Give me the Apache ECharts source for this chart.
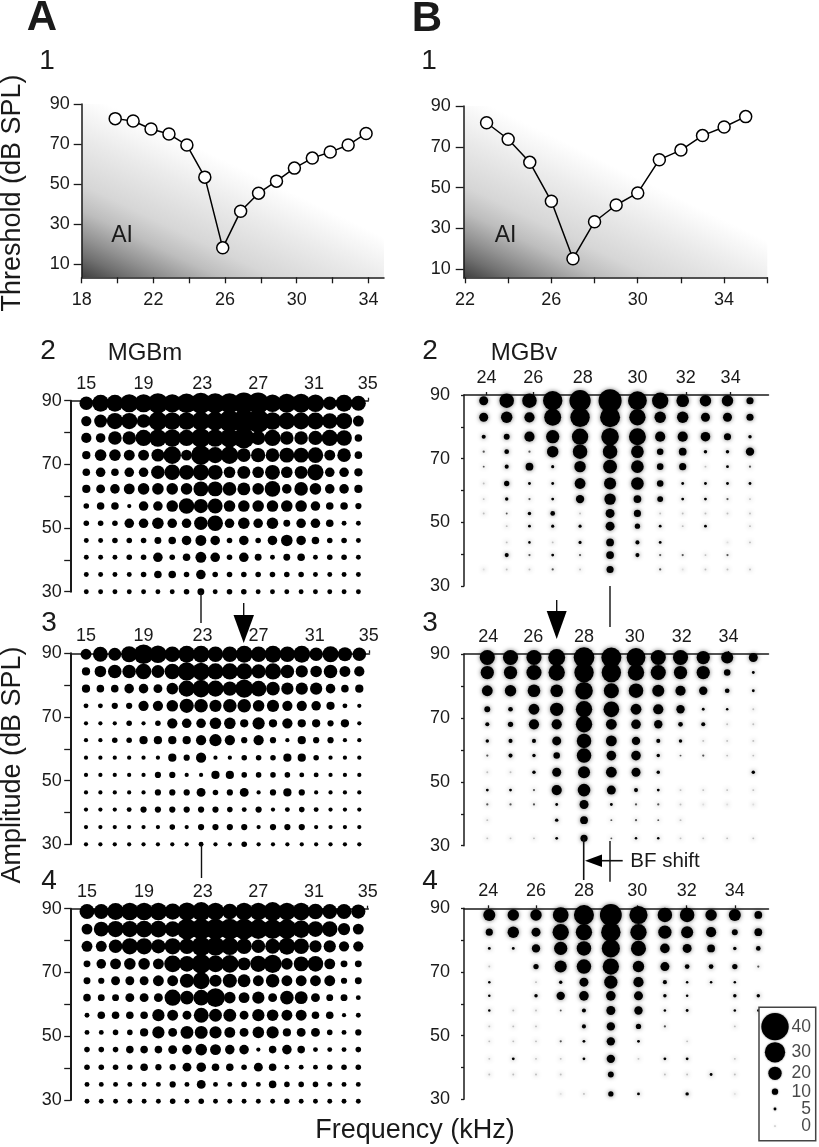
<!DOCTYPE html>
<html><head><meta charset="utf-8">
<style>html,body{margin:0;padding:0;background:#fff}#c{width:819px;height:1147px}</style>
<script src="https://cdn.jsdelivr.net/npm/echarts@6/dist/echarts.min.js"></script>
</head><body><div id="c"></div>
<script>
// ---------- threshold tuning curves ----------
const freqA1 = [19.87,20.87,21.87,22.87,23.87,24.87,25.87,26.87,27.87,28.87,29.87,30.87,31.87,32.87,33.87];
const thrA1  = [82.7,81.5,77.5,75,69.5,53.5,18.2,36.5,45.5,51.5,58,63,66,69.5,75.3];
const freqB1 = [23,24,25,26,27,28,29,30,31,32,33,34,35];
const thrB1  = [81.8,73.7,62.4,43.3,15.2,33.3,41.5,47.4,63.7,68.4,75.5,79.7,84.8];

// ---------- response maps, MGBm (rows: amplitude, cols: frequency) ----------
const freqA = [15,16,17,18,19,20,21,22,23,24,25,26,27,28,29,30,31,32,33,34];
const tickA = [15,19,23.1,27,30.9,34.66];
const labelsA = ['15','19','23','27','31','35'];
const ampA2 = [89.2,83.6,78.3,72.9,67.5,62.3,56.9,51.5,46.1,40.8,35.4,30];
const respA2 = [
[20,25,25,27,27,30,27,29,31,30,30,32,32,26,28,28,26,20,25,22],
[15,19,24,24,20,28,26,26,28,28,32,34,34,26,25,25,25,23,24,16],
[15,14,20,20,24,26,26,24,29,26,28,31,21,24,20,20,21,24,23,11],
[12,17,17,16,16,19,26,16,29,24,26,20,21,20,22,22,23,16,20,11],
[11,14,11,14,14,20,23,22,24,22,17,19,17,22,17,19,24,14,14,12],
[12,13,14,16,17,17,17,17,22,22,20,19,17,23,14,20,17,14,14,12],
[8,11,11,6,14,14,17,23,21,22,17,17,17,17,17,17,14,11,11,9],
[8,8,8,14,14,17,14,14,20,23,14,17,14,17,10,14,14,11,7,7],
[7,7,8,8,8,10,11,14,16,14,8,14,8,14,17,14,11,8,8,7],
[7,7,7,8,8,14,8,11,16,14,8,14,10,7,10,11,7,8,8,7],
[7,7,7,7,8,11,11,8,14,8,8,8,8,8,8,8,7,7,7,7],
[7,7,7,7,7,7,7,8,10,7,8,8,7,7,7,7,7,7,7,7]];
const ampA3 = [89.7,84.3,78.9,73.5,68,62.7,57.2,51.8,46.3,40.9,35.4,30];
const respA3 = [
[16,22,19,24,29,26,23,25,25,23,23,25,23,25,23,25,20,24,21,20],
[12,17,20,20,23,19,23,27,26,24,24,24,21,24,20,18,17,20,16,15],
[12,11,11,14,14,13,17,24,26,24,21,27,23,20,18,18,18,14,11,12],
[7,7,9,9,15,15,17,21,20,18,20,20,17,18,15,15,14,12,7,6],
[6,6,6,8,6,8,15,14,14,17,17,12,18,12,15,12,12,9,12,6],
[6,6,8,8,12,12,12,12,15,18,15,9,15,9,6,12,9,9,6,6],
[6,6,6,6,6,6,12,9,15,6,6,8,8,8,12,12,8,6,6,6],
[6,6,6,6,6,9,9,6,6,12,12,8,8,8,8,7,7,6,6,6],
[6,6,6,6,6,9,9,9,13,8,9,13,6,9,12,9,6,6,6,6],
[6,6,6,7,9,9,9,9,9,9,8,7,9,6,7,8,7,6,6,6],
[6,6,6,6,6,6,8,6,9,9,9,9,6,9,9,9,6,6,6,6],
[6,6,6,6,6,6,6,6,7,6,6,8,6,6,6,6,6,6,6,6]];
const ampA4 = [89.1,83.6,78.2,72.7,67.4,62.1,56.6,51.2,45.8,40.3,34.9,29.6];
const respA4 = [
[22,22,25,26,26,26,24,27,28,26,23,26,26,28,26,26,23,22,22,21],
[16,22,24,24,25,25,23,31,31,31,31,31,29,29,29,26,23,23,18,16],
[16,16,20,24,24,21,24,23,29,28,26,23,20,22,25,23,18,18,15,15],
[10,14,16,17,17,16,25,23,29,25,26,19,24,27,17,22,23,16,10,10],
[10,9,13,13,13,16,16,21,25,18,21,19,16,20,16,16,16,16,9,10],
[11,10,10,13,13,13,24,20,23,28,17,16,18,13,20,19,13,10,10,7],
[7,11,11,11,11,18,16,13,22,19,19,13,18,17,16,16,11,11,6,7],
[7,7,8,8,12,18,13,19,19,18,16,13,17,18,12,13,13,8,7,9],
[8,8,8,11,11,11,13,14,17,16,14,14,6,11,14,11,7,7,7,8],
[8,8,8,8,11,9,9,13,14,11,11,8,13,11,7,7,7,8,8,8],
[7,7,7,7,7,7,9,7,13,7,7,8,7,11,8,8,8,7,7,7],
[7,7,7,7,7,7,8,7,8,7,7,7,7,7,8,7,7,7,7,7]];

// ---------- response maps, MGBv ----------
const labelsB = ['24','26','28','30','32','34'];
const freqB2 = [24,24.95,25.89,26.85,27.98,29.22,30.35,31.29,32.22,33.16,34.07,35];
const tickB2 = [24.12,26.05,28.09,30.35,32.35,34.2];
const ampB2 = [88.2,83,76.9,72.2,67.5,62.2,57.3,52.8,48.8,43.7,39.7,35.2];
const respB2 = [
[14,23,23,31,34,37,30,26,20,18,18,11],
[14,18,16,27,31,32,26,18,18,14,14,11],
[6,9,16,21,26,28,27,16,16,15,11,5],
[3,7,3,18,23,23,20,10,12,5,5,13],
[2.5,6,12,4.5,18,22,20,10,11,2,4,3],
[2,8,4,4,17,19,20,10,4,4,4,4],
[2,5,3,4,13,18,12,9,4,4,3,2],
[1.5,2.5,5,7,2,14,11,1.5,2,1.5,2,2],
[null,2,4,4.5,4.5,14,8,4,2,4,null,2],
[null,2,3.5,2,4.5,12,6,4,null,null,1,1.5],
[null,6,3,4,3,12,6,3,3,2,3,null],
[1,1.5,1.5,3,2,11,null,3,1,1.5,1.5,1.5]];
const freqB3 = [24,24.96,25.93,26.87,28,29.13,30.15,31.07,31.99,32.93,33.92,35];
const tickB3 = [24.04,25.9,28,30.1,32.04,33.97];
const ampB3 = [88.9,84.2,78.5,72.7,68,62.8,58.2,53,47.4,42.9,38,32.3];
const respB3 = [
[24,24,24,27,33,32,30,24,24,21,19,14],
[21,21,24,26,31,31,26,24,21,21,10,4],
[17,18,20,20,28,24,23,19,16,13,7,4],
[9,7,17,21,26,25,17,16,13,4,3.5,1.5],
[6,8,16,16,26,17,15,13,7,6,1.5,1.5],
[5,6,6,14,23,17,13,6,5,1.5,1.5,1.5],
[3,6,5,10,23,15,15,5,2.5,3,1.5,1.5],
[2,2,5,14,19,17,14,5,null,null,null,5],
[4,4,3,16,20,14,6,4,2,1.5,1.5,1.5],
[3,3,3,4,14,4,3,3,1.5,1,1,1],
[1.5,null,null,5,12,2.5,3,2.5,1.5,null,null,null],
[1.5,1.5,1.5,4,11,2.5,3.5,3.5,1.5,1.5,1.5,1.5]];
const freqB4 = [24,24.98,25.91,26.92,27.87,28.97,30.1,31.18,32.09,33.07,34.04,35];
const tickB4 = [23.96,25.91,27.87,30.05,32.07,34.04];
const ampB4 = [87.9,82.5,77.4,71.7,66.8,62.5,57.9,52.9,48.2,42.7,37.8,31.7];
const respB4 = [
[19,18,18,25,32,35,29,23,23,18,19,12],
[11,18,14,26,26,31,26,21,19,16,9,12],
[4,4,13,21,23,29,24,15,14,12,5,7],
[2,null,8,19,23,26,18,14,7,7,8,3],
[3.5,null,2,5,14,21,16,6,3.5,3.5,3.5,null],
[3.5,null,5,13,15,15,14,5,3.5,null,5,5],
[3.5,1.5,1.5,2.5,6,14,13,3.5,4,null,3.5,3.5],
[2,1.5,1.5,null,6,13,8,3,null,null,2,null],
[1.5,1.5,1.5,3,4,13,4,null,1.5,null,null,null],
[2,4,1.5,1.5,4,13,2,4,4,null,1.5,null],
[1.5,1.5,2,1.5,null,9,null,2,1.5,4,1.5,null],
[null,null,null,1,1.5,8,4,null,5,null,1,null]];

// ---------- size legend ----------
const legendValues = [40,30,20,10,5,0];
const legendRows = [19.4,45,66,84.4,101.7,118.7];

const FONT = '"Liberation Sans", Arial, Helvetica, sans-serif';
const INK = '#1a1a1a';
const dotSize = v => Math.max(1, (v - 1) * 2 / 3);
const dotColor = v => v <= 1 ? '#dcdcdc' : v <= 2 ? '#bdbdbd' : v <= 3 ? '#555' : '#000';
const nearestLabel = (pos, labels, v) => {
  let best = 0;
  pos.forEach((p, i) => { if (Math.abs(p - v) < Math.abs(pos[best] - v)) best = i; });
  return labels[best];
};

const grids = [], xAxes = [], yAxes = [], series = [];

function axisCommon(w) {
  return { lineStyle: { color: INK, width: w } };
}

function addCurve(cfg) {
  const i = grids.length;
  const w = cfg.right - cfg.left, h = cfg.bottom - cfg.top;
  grids.push({ left: cfg.left, top: cfg.top, width: w, height: h, show: true, borderWidth: 0,
    backgroundColor: new echarts.graphic.LinearGradient(0, 1, 0.24, 0.13, [
      { offset: 0, color: '#3f3f3f' }, { offset: 0.12, color: '#707070' }, { offset: 0.22, color: '#929292' },
      { offset: 0.36, color: '#bdbdbd' }, { offset: 0.5, color: '#d6d6d6' }, { offset: 0.77, color: '#ebebeb' }, { offset: 1, color: '#ffffff' }
    ]) });
  xAxes.push({ gridIndex: i, type: 'value', min: cfg.xmin, max: cfg.xmax, position: 'bottom',
    axisLine: { onZero: false, ...axisCommon(1.5) }, splitLine: { show: false },
    axisTick: { customValues: cfg.xTicks, length: 6, lineStyle: { color: INK, width: 1.3 } },
    axisLabel: { customValues: cfg.xLabels, margin: 14, fontSize: 18, color: INK, fontFamily: FONT } });
  yAxes.push({ gridIndex: i, type: 'value', min: cfg.ymin, max: 90,
    axisLine: { onZero: false, ...axisCommon(1.5) }, splitLine: { show: false },
    axisTick: { customValues: [10, 30, 50, 70, 90], length: 8, lineStyle: { color: INK, width: 1.3 } },
    axisLabel: { customValues: [10, 30, 50, 70, 90], margin: cfg.yMargin, fontSize: 18, color: INK, fontFamily: FONT } });
  series.push({ type: 'line', xAxisIndex: i, yAxisIndex: i, data: cfg.x.map((f, k) => [f, cfg.y[k]]),
    symbol: 'circle', symbolSize: 12, showSymbol: true, clip: false, animation: false,
    lineStyle: { color: '#000', width: 1.5 },
    itemStyle: { color: '#fff', borderColor: '#000', borderWidth: 1.5, opacity: 1 } });
}

function addMap(cfg) {
  const i = grids.length;
  const w = cfg.right - cfg.left, h = cfg.y30 - cfg.y90;
  const k = (cfg.xLast - cfg.xFirst) / (cfg.freq[cfg.freq.length - 1] - cfg.freq[0]);
  const xmin = cfg.freq[0] - (cfg.xFirst - cfg.left) / k;
  const xmax = xmin + w / k;
  grids.push({ left: cfg.left, top: cfg.y90, width: w, height: h });
  xAxes.push({ gridIndex: i, type: 'value', min: xmin, max: xmax, position: 'top',
    axisLine: { onZero: false, ...axisCommon(1.5) }, splitLine: { show: false },
    axisTick: { customValues: cfg.ticks, length: 3, lineStyle: { color: INK, width: 1.3 } },
    axisLabel: { customValues: cfg.ticks, margin: 8, fontSize: 18, color: INK, fontFamily: FONT,
      formatter: v => nearestLabel(cfg.ticks, cfg.labels, v) } });
  yAxes.push({ gridIndex: i, type: 'value', min: 30, max: 90,
    axisLine: { onZero: false, ...axisCommon(cfg.yWidth) }, splitLine: { show: false },
    axisTick: { customValues: [30, 40, 50, 60, 70, 80, 90], length: cfg.tick, lineStyle: { color: INK, width: 1.3 } },
    axisLabel: { customValues: [30, 50, 70, 90], margin: cfg.margin, fontSize: 18, color: INK, fontFamily: FONT } });
  const data = [];
  cfg.resp.forEach((row, r) => row.forEach((v, c) => { if (v != null) data.push([cfg.freq[c], cfg.amp[r], v]); }));
  series.push({ type: 'scatter', xAxisIndex: i, yAxisIndex: i, data, clip: false, animation: false,
    symbol: 'circle',
    symbolSize: d => cfg.blur ? dotSize(d[2]) * 0.92 + 1 : dotSize(d[2]) + 0.9,
    itemStyle: cfg.blur
      ? { color: p => dotColor(p.data[2]), opacity: 1, shadowBlur: 4, shadowColor: 'rgba(0,0,0,0.55)' }
      : { color: '#000', opacity: 1 } });
}

addCurve({ left: 81.7, right: 384, top: 104, bottom: 277.3, xmin: 18, xmax: 34.87, ymin: 3.5, yMargin: 12,
  xTicks: [18,20,22,24,26,28,30,32,34], xLabels: [18,22,26,30,34], x: freqA1, y: thrA1 });
addCurve({ left: 463.7, right: 767.3, top: 106, bottom: 277.3, xmin: 21.94, xmax: 36, ymin: 6.08, yMargin: 13,
  xTicks: [22,24,26,28,30,32,34,36], xLabels: [22,26,30,34], x: freqB1, y: thrB1 });

const aCfg = { left: 70.7, ticks: tickA, labels: labelsA, freq: freqA, yWidth: 2, tick: 6.5, margin: 9 };
addMap({ ...aCfg, right: 368.3, y90: 400.7, y30: 591.7, xFirst: 86.3, xLast: 358.4, amp: ampA2, resp: respA2 });
addMap({ ...aCfg, right: 369.5, y90: 653.3, y30: 844.3, xFirst: 86, xLast: 359.3, amp: ampA3, resp: respA3 });
addMap({ ...aCfg, right: 368.3, y90: 908.7, y30: 1100, xFirst: 87, xLast: 358.3, amp: ampA4, resp: respA4 });
const bCfg = { left: 464, right: 768.5, labels: labelsB, yWidth: 1.5, tick: 3, margin: 14, blur: true };
addMap({ ...bCfg, y90: 395, y30: 586, xFirst: 483.7, xLast: 750, freq: freqB2, ticks: tickB2, amp: ampB2, resp: respB2 });
addMap({ ...bCfg, y90: 654, y30: 845.7, xFirst: 487.3, xLast: 753.3, freq: freqB3, ticks: tickB3, amp: ampB3, resp: respB3 });
addMap({ ...bCfg, y90: 908.3, y30: 1099.3, xFirst: 489.3, xLast: 758.3, freq: freqB4, ticks: tickB4, amp: ampB4, resp: respB4 });

// size legend: its own small grid, framed
(function () {
  const i = grids.length;
  grids.push({ left: 759, top: 1007.3, width: 56.7, height: 133.4, show: true, borderColor: '#444', borderWidth: 1.5, backgroundColor: '#fff', z: 5 });
  xAxes.push({ gridIndex: i, type: 'value', min: 0, max: 56.7, show: false });
  yAxes.push({ gridIndex: i, type: 'value', min: 0, max: 133.4, inverse: true, show: false });
  series.push({ type: 'scatter', xAxisIndex: i, yAxisIndex: i, clip: false, animation: false, z: 6,
    data: legendValues.map((v, k) => [16, legendRows[k], v]),
    symbolSize: d => dotSize(d[2]) * 1.05,
    itemStyle: { color: p => p.data[2] === 0 ? '#777' : '#000', opacity: 1, shadowBlur: 2, shadowColor: 'rgba(0,0,0,0.5)' } });
  series.push({ type: 'scatter', xAxisIndex: i, yAxisIndex: i, clip: false, animation: false, z: 6,
    data: legendValues.map((v, k) => [52.5, legendRows[k], v]),
    symbolSize: 1, itemStyle: { color: 'transparent' },
    label: { show: true, position: 'left', distance: 0, fontSize: 17.5, color: INK, fontFamily: FONT, formatter: p => String(p.data[2]) } });
})();

// ---------- text and annotations ----------
const T = (x, y, text, size, extra) => ({ type: 'text', x, y, rotation: (extra && extra.rot) || 0, z: 20,
  style: { text, x: 0, y: 0, fontSize: size, fontWeight: (extra && extra.bold) ? 'bold' : 'normal', fontFamily: FONT, fill: INK, align: 'center', verticalAlign: 'middle' } });
const L = (x1, y1, x2, y2, w) => ({ type: 'line', z: 20, shape: { x1, y1, x2, y2 }, style: { stroke: '#111', lineWidth: w || 1.4 } });
const P = pts => ({ type: 'polygon', z: 20, shape: { points: pts }, style: { fill: '#000' } });

const graphic = [
  T(42, 18, 'A', 42, { bold: true }), T(427, 19, 'B', 42, { bold: true }),
  T(47, 61, '1', 28), T(429, 61, '1', 28),
  T(48, 351, '2', 28), T(430, 351, '2', 28),
  T(49, 623, '3', 28), T(430, 623, '3', 28),
  T(49, 881, '4', 28), T(430, 881, '4', 28),
  T(145, 353, 'MGBm', 24), T(524, 353, 'MGBv', 24),
  T(122, 236, 'AI', 23), T(505.5, 236, 'AI', 23),
  T(13, 193, 'Threshold (dB SPL)', 27, { rot: Math.PI / 2 }),
  T(13, 765, 'Amplitude (dB SPL)', 27, { rot: Math.PI / 2 }),
  T(415, 1131, 'Frequency (kHz)', 27),
  T(665, 861, 'BF shift', 20.5),
  L(201, 592, 201, 623), L(201.5, 845, 201.5, 878),
  L(243.7, 603, 243.7, 617), P([[233.5, 615], [254, 615], [243.7, 643]]),
  L(610, 586, 610, 627),
  L(556.7, 600, 556.7, 613), P([[546.7, 611], [566.7, 611], [556.7, 639]]),
  L(583.7, 838, 583.7, 880, 1.6), L(610, 841, 610, 881.7, 1.4),
  L(600, 860.7, 622.7, 860.7, 1.6), P([[585, 860.7], [602, 854.5], [602, 867]])
];

const chart = echarts.init(document.getElementById('c'), null, { renderer: 'canvas', width: 819, height: 1147 });
chart.setOption({ animation: false, backgroundColor: '#fff', grid: grids, xAxis: xAxes, yAxis: yAxes, series, graphic });
</script></body></html>
